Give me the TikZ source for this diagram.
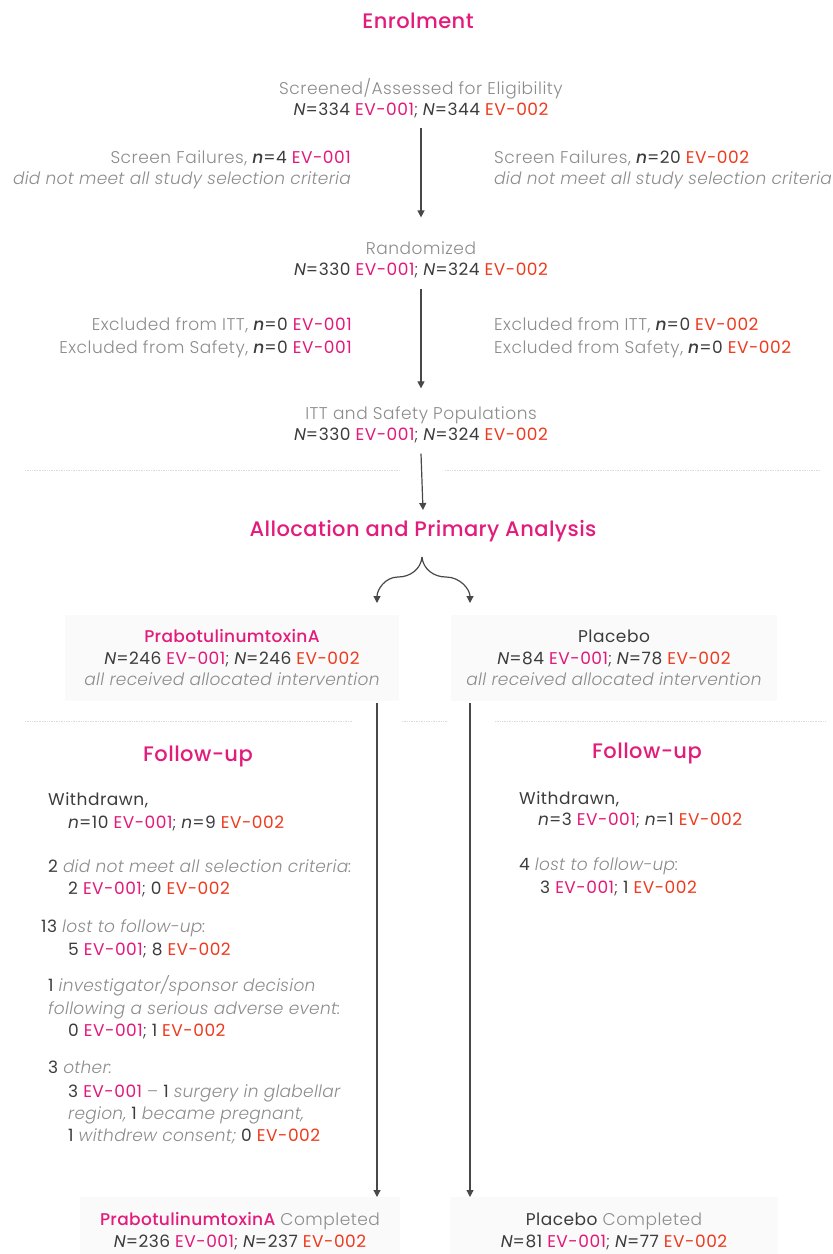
\documentclass[tikz,border=0pt]{standalone}
\usepackage{fontspec}
\usetikzlibrary{arrows.meta}
\setmainfont{Poppins}
\newfontfamily\lt{Poppins Light}[ItalicFont={Poppins Light Italic},LetterSpace=3,ItalicFeatures={LetterSpace=1.5}]
\newfontfamily\rg{Poppins}[ItalicFont={Poppins Italic},LetterSpace=3]
\newfontfamily\md{Poppins Medium}[ItalicFont={Poppins Medium Italic},LetterSpace=2]
\definecolor{evone}{HTML}{E2187A}
\definecolor{evtwo}{HTML}{EE3A1E}
\definecolor{headc}{HTML}{E31B7B}
\definecolor{lg}{HTML}{8C8C8C}
\definecolor{dk}{HTML}{3C3C3C}
\definecolor{arrc}{HTML}{484848}
\definecolor{sepc}{HTML}{DCDCDC}
\definecolor{boxc}{HTML}{FAFAFA}
\newcommand{\EVa}{{\rg\color{evone}EV-001}}
\newcommand{\EVb}{{\rg\color{evtwo}EV-002}}
\newcommand{\myNN}{{\rg\itshape N}}
\newcommand{\mynb}{{\md\itshape n}}
\newcommand{\mynit}{{\rg\itshape n}}
\newcommand{\mygl}[1]{{\lt\color{lg}#1}}
\newcommand{\mygi}[1]{{\lt\itshape\color{lg}#1}}
\newcommand{\mysemi}{{\lt ;} }
\begin{document}
\begin{tikzpicture}[x=1pt,y=-1pt,
  txt/.style={inner sep=0pt, text=dk, font=\fontsize{17}{21.5}\selectfont\rg},
  head/.style={inner sep=0pt, text=headc, font=\fontsize{21}{24}\selectfont\md},
  arr/.style={draw=arrc, line width=1.2pt, -{Triangle[length=7pt,width=7pt]}},
  sepline/.style={draw=sepc, line width=0.7pt, densely dotted},
  fbox/.style={fill=boxc}]
\useasboundingbox (0,0) rectangle (833,1254);
% Enrolment
\node[head] (enrol) at (418,21) {Enrolment};
\node[txt,align=center] (screen) at (421,98) {\mygl{Screened/Assessed for Eligibility}\\\myNN=334 \EVa\mysemi\myNN=344 \EVb};
\node[txt,align=right,anchor=east] (sfl) at (351,170) {\mygl{Screen Failures,} \mynb=4 \EVa\\\mygi{did not meet all study selection criteria}};
\node[txt,align=left,anchor=west] (sfr) at (494,170) {\mygl{Screen Failures,} \mynb=20 \EVb\\\mygi{did not meet all study selection criteria}};
\node[txt,align=center] (rand) at (421,260) {\mygl{Randomized}\\\myNN=330 \EVa\mysemi\myNN=324 \EVb};
\node[txt,align=right,anchor=east] (exl) at (352,338) {\mygl{Excluded from ITT,} \mynb=0 \EVa\\[1.5pt]\mygl{Excluded from Safety,} \mynb=0 \EVa};
\node[txt,align=left,anchor=west] (exr) at (494,338) {\mygl{Excluded from ITT,} \mynb=0 \EVb\\[1.5pt]\mygl{Excluded from Safety,} \mynb=0 \EVb};
\node[txt,align=center] (itt) at (421,425) {\mygl{ITT and Safety Populations}\\\myNN=330 \EVa\mysemi\myNN=324 \EVb};
\draw[arr] ([yshift=-10pt]screen.south) -- ([yshift=24pt]rand.north);
\draw[arr] ([yshift=-10pt]rand.south) -- ([yshift=18pt]itt.north);
% separator 1
\draw[sepline] (25,470) -- (400,470);
\draw[sepline] (445,470) -- (820,470);
% Allocation
\node[head] (alloc) at (423,531) {Allocation and Primary Analysis};
\draw[arr] ([yshift=-10pt]itt.south) -- ([yshift=10pt]alloc.north);
\coordinate (apex) at (422,557);
\node[txt,align=center,fill=boxc,minimum width=334pt,minimum height=86pt] (prabo) at (232,658) {{\md\color{headc}PrabotulinumtoxinA}\\\myNN=246 \EVa\mysemi\myNN=246 \EVb\\\mygi{all received allocated intervention}};
\node[txt,align=center,fill=boxc,minimum width=326pt,minimum height=86pt] (plac) at (614,658) {Placebo\\\myNN=84 \EVa\mysemi\myNN=78 \EVb\\\mygi{all received allocated intervention}};
\draw[arr] (apex) to[out=-95,in=0] (398,577) to[out=180,in=90] (377,603);
\draw[arr] (apex) to[out=-85,in=180] (446,577) to[out=0,in=90] (470,603);
% separator 2
\draw[sepline] (25,721) -- (352,721);
\draw[sepline] (402,721) -- (447,721);
\draw[sepline] (495,721) -- (825,721);
% Follow-up headings
\node[head] (ful) at (198,756) {Follow-up};
\node[head] (fur) at (647,753) {Follow-up};
% left list
\node[txt,anchor=mid west] (l1) at (48,803) {Withdrawn,};
\node[txt,anchor=mid west] (l2) at (68,826) {\mynit=10 \EVa\mysemi\mynit=9 \EVb};
\node[txt,anchor=mid west] (l3) at (48,870) {2 \mygi{did not meet all selection criteria:}};
\node[txt,anchor=mid west] (l4) at (68,892) {2 \EVa\mysemi0 \EVb};
\node[txt,anchor=mid west] (l5) at (41,930) {13 \mygi{lost to follow-up:}};
\node[txt,anchor=mid west] (l6) at (68,953) {5 \EVa\mysemi8 \EVb};
\node[txt,anchor=mid west] (l7) at (48,989) {1 \mygi{investigator/sponsor decision}};
\node[txt,anchor=mid west] (l8) at (48,1012) {\mygi{following a serious adverse event:}};
\node[txt,anchor=mid west] (l9) at (68,1034) {0 \EVa\mysemi1 \EVb};
\node[txt,anchor=mid west] (l10) at (48,1071) {3 \mygi{other:}};
\node[txt,anchor=mid west] (l11) at (68,1095) {3 \EVa\ \mygl{–} 1 \mygi{surgery in glabellar}};
\node[txt,anchor=mid west] (l12) at (68,1117) {\mygi{region,} 1 \mygi{became pregnant,}};
\node[txt,anchor=mid west] (l13) at (68,1139) {1 \mygi{withdrew consent;} 0 \EVb};
% right list
\node[txt,anchor=mid west] (r1) at (519,802) {Withdrawn,};
\node[txt,anchor=mid west] (r2) at (538,823) {\mynit=3 \EVa\mysemi\mynit=1 \EVb};
\node[txt,anchor=mid west] (r3) at (519,868) {4 \mygi{lost to follow-up:}};
\node[txt,anchor=mid west] (r4) at (540,891) {3 \EVa\mysemi1 \EVb};
% completed
\node[txt,align=center,fill=boxc,minimum width=320pt,minimum height=68pt,anchor=north] (compl) at (240,1197) {{\md\color{headc}PrabotulinumtoxinA} \mygl{Completed}\\\myNN=236 \EVa\mysemi\myNN=237 \EVb};
\node[txt,align=center,fill=boxc,minimum width=328pt,minimum height=68pt,anchor=north] (compr) at (614,1197) {Placebo \mygl{Completed}\\\myNN=81 \EVa\mysemi\myNN=77 \EVb};
\draw[arr] (377,0 |- prabo.south) ++(0,2) -- (377,0 |- compl.north);
\draw[arr] (470,0 |- plac.south) ++(0,2) -- (470,0 |- compr.north);
\end{tikzpicture}
\end{document}
